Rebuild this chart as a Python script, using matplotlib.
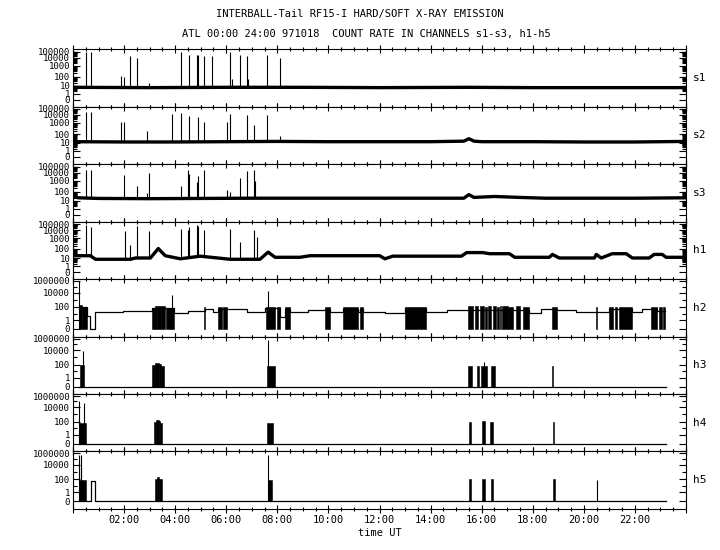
import numpy as np
import matplotlib.pyplot as plt
from matplotlib.ticker import FixedLocator, NullFormatter

plt.rcParams['font.family'] = 'DejaVu Sans Mono'
plt.rcParams['font.size'] = 7.5

# ---- data (time in hours UT, values in counts) ----
names = ["s1", "s2", "s3", "h1", "h2", "h3", "h4", "h5"]

s1_base_t = [0, 3, 6, 9, 12, 15.5, 18, 21, 24]
s1_base_v = [6, 5.5, 6, 6, 5.5, 6, 5.5, 5.5, 5.5]
s1_spk_t = [0.51, 0.70, 1.89, 2.01, 2.22, 2.52, 2.96, 4.21, 4.56, 4.85, 4.88,
            5.11, 5.46, 6.15, 6.24, 6.52, 6.83, 6.87, 7.61, 8.11]
s1_spk_v = [7e4, 7e4, 120, 80, 2e4, 8000, 20, 7e4, 3e4, 3e4, 3e4,
            1.5e4, 2e4, 7e4, 60, 3e4, 1.5e4, 60, 3e4, 1e4]

s2_base_t = [0, 2, 4, 6, 8, 10, 12, 14, 15.3, 15.5, 15.7, 16, 18, 20, 22, 24]
s2_base_v = [14, 13, 13, 14, 15, 14, 14, 14, 16, 30, 16, 14, 14, 13, 13, 15]
s2_spk_t = [0.51, 0.70, 1.89, 2.01, 2.89, 3.86, 4.21, 4.56, 4.88, 5.11,
            6.01, 6.15, 6.83, 7.10, 7.61, 8.11]
s2_spk_v = [3.5e4, 3.5e4, 1500, 1500, 200, 1.5e4, 2.5e4, 7000, 5000, 1200,
            1500, 1.5e4, 1e4, 600, 1e4, 60]

s3_base_t = [0, 0.2, 1, 3, 5, 7, 9, 11, 13, 15.3, 15.5, 15.7, 16.5, 17.5,
             18.5, 20, 22, 24]
s3_base_v = [35, 20, 17, 16, 17, 18, 18, 18, 18, 18, 45, 22, 28, 22,
             18, 18, 18, 20]
s3_spk_t = [0.51, 0.70, 2.01, 2.52, 2.89, 2.96, 4.21, 4.49, 4.56, 4.85, 4.88,
            5.11, 6.01, 6.15, 6.52, 6.83, 7.10, 7.14]
s3_spk_v = [2.5e4, 2.5e4, 5000, 300, 70, 9000, 300, 3e4, 7000, 800, 3500,
            2.5e4, 150, 100, 2000, 2e4, 3e4, 1000]

h1_base_t = [0, 0.68, 0.88, 2.25, 2.44, 3.03, 3.34, 3.61, 4.2, 4.98, 6.15,
             7.32, 7.64, 7.91, 8.89, 9.28, 12.01, 12.21, 12.52, 15.21, 15.41,
             16.04, 16.31, 17.09, 17.29, 18.65, 18.77, 19.04, 20.41, 20.49,
             20.68, 21.11, 21.66, 21.90, 22.56, 22.75, 23.07, 23.22, 24]
h1_base_v = [18, 18, 7, 7, 10, 10, 110, 18, 8, 16, 7,
             7, 45, 12, 12, 18, 18, 8, 16, 16, 40,
             40, 30, 30, 12, 12, 25, 10, 10, 25,
             10, 30, 30, 10, 10, 25, 25, 12, 12]
h1_spk_t = [0.51, 0.70, 2.02, 2.22, 2.51, 2.96, 4.21, 4.49, 4.56, 4.85, 4.88,
            5.11, 6.15, 6.52, 7.10, 7.22]
h1_spk_v = [6e4, 3e4, 8000, 250, 5e4, 8000, 1.5e4, 1.2e4, 3e4, 6e4, 5e4,
            1.2e4, 1.5e4, 400, 1.2e4, 1500]

# h2: stepped level plus blocks of rapid switching
h2_step_t = [0.23, 0.55, 0.68, 0.88, 1.97, 3.09, 3.94, 4.51, 5.18, 5.49,
             5.68, 6.04, 6.82, 7.52, 8.11, 8.30, 8.50, 9.20, 9.86, 10.06,
             10.57, 11.15, 11.23, 11.35, 12.21, 12.99, 13.81, 14.63, 15.46,
             17.87, 18.34, 18.77, 18.96, 19.71, 20.53, 21.00, 21.89, 22.29,
             22.64, 22.87, 22.95, 23.17]
h2_step_v = [100, 4, 0, 15, 22, 80, 11, 22, 45, 15,
             45, 45, 15, 80, 3, 50, 15, 35, 50, 19,
             50, 15, 50, 19, 11, 80, 19, 35, 35,
             11, 50, 50, 35, 15, 15, 50, 19, 50,
             50, 27, 27, 27]
h2_blk_a = [0.25, 0.35, 3.09, 3.20, 3.30, 3.45, 3.64, 5.14, 5.68, 5.88, 7.55,
            7.99, 8.30, 9.86, 10.57, 11.23, 12.99, 15.46, 15.72, 15.95, 16.15,
            16.24, 16.44, 16.59, 16.70, 16.80, 17.05, 17.35, 17.61, 18.77,
            20.49, 21.00, 21.22, 21.36, 22.63, 22.95, 23.10]
h2_blk_b = [0.35, 0.55, 3.20, 3.30, 3.45, 3.60, 3.94, 5.18, 5.84, 6.04, 7.91,
            8.11, 8.50, 10.06, 11.15, 11.35, 13.81, 15.66, 15.85, 16.11, 16.22,
            16.38, 16.57, 16.67, 16.77, 17.02, 17.22, 17.52, 17.87, 18.96,
            20.53, 21.16, 21.30, 21.89, 22.88, 23.05, 23.17]
h2_blk_v = [180, 90, 80, 130, 150, 120, 80, 100, 100, 100, 110,
            100, 100, 100, 100, 100, 100, 120, 130, 140, 110,
            130, 120, 110, 120, 130, 110, 120, 110, 100,
            100, 100, 110, 100, 110, 100, 100]
h2_spk_t = [0.23, 3.88, 7.62]
h2_spk_v = [1e6, 5000, 1.5e4]

h3_line_t = [0.23, 23.2]
h3_line_v = [0, 0]
h3_blk_a = [0.29, 3.09, 3.20, 3.35, 3.45, 7.59, 15.47, 15.80, 15.99, 16.36, 18.77]
h3_blk_b = [0.42, 3.20, 3.35, 3.45, 3.55, 7.91, 15.64, 15.90, 16.21, 16.51, 18.80]
h3_blk_v = [100, 80, 150, 110, 70, 60, 60, 50, 70, 50, 60]
h3_spk_t = [0.38, 7.65, 16.09]
h3_spk_v = [8000, 5e5, 200]

h4_line_t = [0.23, 23.2]
h4_line_v = [0, 0]
h4_blk_a = [0.25, 3.16, 3.25, 3.35, 3.42, 7.59, 15.50, 16.01, 16.31, 18.78]
h4_blk_b = [0.49, 3.25, 3.35, 3.42, 3.48, 7.82, 15.59, 16.15, 16.44, 18.84]
h4_blk_v = [60, 100, 200, 120, 60, 80, 100, 150, 90, 100]
h4_spk_t = [0.23, 0.42]
h4_spk_v = [1.5e5, 5e4]

h5_line_t = [0.23, 0.71, 0.88, 23.2]
h5_line_v = [0, 60, 0, 0]
h5_blk_a = [0.23, 3.20, 3.28, 3.38, 7.62, 15.50, 16.01, 16.36, 18.78]
h5_blk_b = [0.49, 3.28, 3.38, 3.48, 7.78, 15.59, 16.15, 16.44, 18.87]
h5_blk_v = [80, 120, 200, 100, 80, 100, 110, 110, 100]
h5_spk_t = [0.25, 0.30, 0.33, 7.65, 20.50]
h5_spk_v = [6e5, 5000, 6e5, 6e5, 80]

# axis scales (value -> height in pixels above panel bottom)
s_vals = [-0.09, 0, 1, 10, 100, 1e3, 1e4, 1e5, 4e5]
s_pix = [0, 7, 13, 21, 30, 41, 49, 55, 57.5]
h_vals = [-0.09, 0, 1, 10, 100, 1e3, 1e4, 1e5, 1e6, 3e6]
h_pix = [0, 7.5, 16.5, 23, 29.5, 37, 44, 50, 55.5, 57.5]


def make_scale(vals, pix):
    u = np.log10(np.asarray(vals, float) + 0.1)
    p = np.asarray(pix, float)

    def fwd(x):
        x = np.clip(np.asarray(x, float), -0.0999, None)
        return np.interp(np.log10(x + 0.1), u, p)

    def inv(y):
        return 10 ** np.interp(np.asarray(y, float), p, u) - 0.1
    return fwd, inv


s_scale = make_scale(s_vals, s_pix)
h_scale = make_scale(h_vals, h_pix)

fig = plt.figure(figsize=(7.2, 5.5), dpi=100)
axes = fig.subplots(8, 1, sharex=True)
fig.subplots_adjust(left=73/720, right=686/720, top=1-49/550,
                    bottom=1-509/550, hspace=0)

s_data = [(s1_base_t, s1_base_v, s1_spk_t, s1_spk_v),
          (s2_base_t, s2_base_v, s2_spk_t, s2_spk_v),
          (s3_base_t, s3_base_v, s3_spk_t, s3_spk_v),
          (h1_base_t, h1_base_v, h1_spk_t, h1_spk_v)]
h_data = [(h2_step_t, h2_step_v, h2_blk_a, h2_blk_b, h2_blk_v, h2_spk_t, h2_spk_v),
          (h3_line_t, h3_line_v, h3_blk_a, h3_blk_b, h3_blk_v, h3_spk_t, h3_spk_v),
          (h4_line_t, h4_line_v, h4_blk_a, h4_blk_b, h4_blk_v, h4_spk_t, h4_spk_v),
          (h5_line_t, h5_line_v, h5_blk_a, h5_blk_b, h5_blk_v, h5_spk_t, h5_spk_v)]

# count-rate panels s1-s3, h1
for ax, (bt, bv, st, sv) in zip(axes[:4], s_data):
    ax.set_yscale('function', functions=s_scale)
    ax.set_ylim(s_vals[0], s_vals[-1])
    ax.plot(bt, bv, color='k', lw=2.4, solid_capstyle='butt')
    ax.vlines(st, np.interp(st, bt, bv), sv, color='k', lw=0.8)
    ax.yaxis.set_major_locator(FixedLocator([0, 1, 10, 100, 1000, 10000, 100000]))
    ax.set_yticklabels(["0", "1", "10", "100", "1000", "10000", "100000"])
    minors = [m * 10 ** k for k in range(5) for m in range(2, 10)]
    ax.yaxis.set_minor_locator(FixedLocator(minors))

# channels h2-h5
for ax, (lt, lv, ba, bb, bv, st, sv) in zip(axes[4:], h_data):
    ax.set_yscale('function', functions=h_scale)
    ax.set_ylim(h_vals[0], h_vals[-1])
    ax.plot(lt, lv, color='k', lw=0.9, drawstyle='steps-post')
    ax.bar(ba, bv, width=np.subtract(bb, ba), align='edge', color='k',
           edgecolor='k', linewidth=0.4)
    ax.vlines(st, 0, sv, color='k', lw=0.8)
    ax.yaxis.set_major_locator(FixedLocator([0, 1, 100, 10000, 1000000]))
    ax.set_yticklabels(["0", "1", "100", "10000", "1000000"])
    ax.yaxis.set_minor_locator(FixedLocator([10, 1000, 100000]))

for ax, name in zip(axes, names):
    ax.set_xlim(0, 24)
    for sp in ax.spines.values():
        sp.set_linewidth(0.8)
    ax.tick_params(axis='y', which='both', direction='in', left=True, right=True,
                   width=0.8, labelsize=6.5, pad=2)
    ax.tick_params(axis='y', which='major', length=5)
    ax.tick_params(axis='y', which='minor', length=3)
    ax.tick_params(axis='x', which='both', direction='inout', top=True,
                   bottom=True, width=0.8, labelsize=7.5, pad=1.5)
    ax.tick_params(axis='x', which='major', length=6)
    ax.tick_params(axis='x', which='minor', length=3)
    ax.yaxis.set_minor_formatter(NullFormatter())
    ax.text(1.012, 0.5, name, transform=ax.transAxes, va='center', ha='left',
            fontsize=8)

hours = list(range(0, 25, 2))
axes[-1].xaxis.set_major_locator(FixedLocator(hours))
axes[-1].xaxis.set_minor_locator(FixedLocator(np.arange(0, 24.01, 0.5)))
axes[-1].set_xticklabels(["" if h in (0, 24) else f"{h:02d}:00" for h in hours])

fig.text(0.5, 1 - 14/550, "INTERBALL-Tail RF15-I HARD/SOFT X-RAY EMISSION",
         ha='center', va='center', fontsize=7.5)
fig.text(366/720, 1 - 34/550,
         "ATL 00:00 24:00 971018  COUNT RATE IN CHANNELS s1-s3, h1-h5",
         ha='center', va='center', fontsize=7.5)
fig.text(379.5/720, 1 - 533/550, "time UT", ha='center', va='center',
         fontsize=7.5)

fig.savefig("out.png", dpi=100)
